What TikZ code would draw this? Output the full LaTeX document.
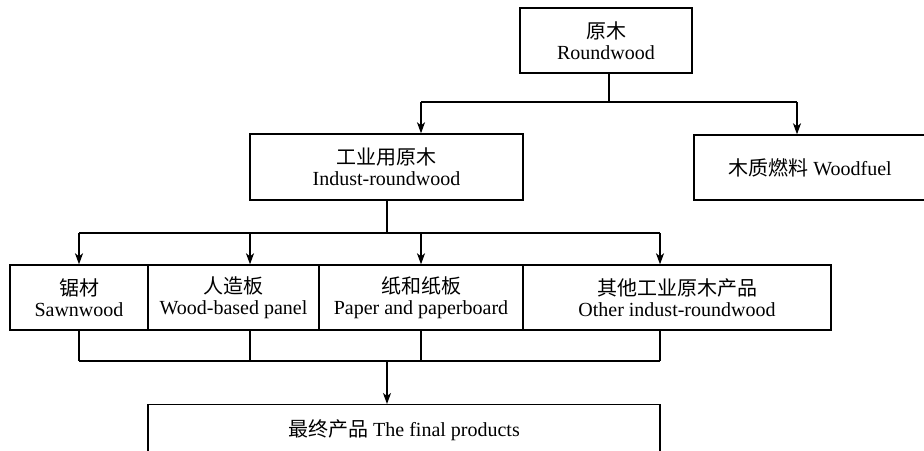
\documentclass[tikz,border=0pt]{standalone}
\usepackage{fontspec}
\setmainfont{Liberation Serif}
\newfontfamily\cjk{Noto Sans CJK SC}
\usetikzlibrary{arrows.meta}
\begin{document}
\begin{tikzpicture}[x=1pt,y=-1pt,
  box/.style={draw,line width=1.4pt,rectangle,inner sep=0pt,align=center,
    font=\fontsize{20}{21}\selectfont},
  conn/.style={line width=1.4pt},
  arr/.style={conn,-{Stealth[length=11pt,width=8pt,inset=3pt]}}]
\useasboundingbox (0,0) rectangle (924,450);
% nodes
\node[box,minimum width=172pt,minimum height=65pt] (rw) at (606,40.5) {{\cjk 原木}\\Roundwood};
\node[box,minimum width=232pt,minimum height=65pt] (wf) at (810,167.5) {{\cjk 木质燃料} Woodfuel};
\node[box,minimum width=273pt,minimum height=66pt] (ind) at (386.5,167) {{\cjk 工业用原木}\\Indust-roundwood};
\node[box,minimum width=138pt,minimum height=65pt] (saw) at (79,297.5) {{\cjk 锯材}\\Sawnwood};
\node[box,minimum width=171pt,minimum height=65pt] (wbp) at (233.5,297.5) {{\cjk 人造板}\\Wood-based panel};
\node[box,minimum width=204pt,minimum height=65pt] (pap) at (421,297.5) {{\cjk 纸和纸板}\\Paper and paperboard};
\node[box,minimum width=308pt,minimum height=65pt] (oth) at (677,297.5) {{\cjk 其他工业原木产品}\\Other indust-roundwood};
\node[box,minimum width=512pt,minimum height=54pt,anchor=north] (fin) at (404,404) {};
\node[font=\fontsize{20}{21}\selectfont,inner sep=0pt] (fint) at (404,430) {{\cjk 最终产品} The final products};
% junction coordinates
\coordinate (j1) at (609,102);
\coordinate (j1l) at (421,102);
\coordinate (j1r) at (797,102);
\coordinate (j2) at (387,233);
\coordinate (xa) at (79,0);
\coordinate (xb) at (250,0);
\coordinate (xc) at (421,0);
\coordinate (xd) at (660,0);
\coordinate (j3) at (387,361);
% top connectors
\draw[conn] (rw.south -| j1) -- (j1);
\draw[conn] (j1l) -- (j1r);
\draw[arr] (j1l) -- (j1l |- ind.north);
\draw[arr] (j1r) -- (j1r |- wf.north);
% middle connectors
\draw[conn] (ind.south -| j2) -- (j2);
\draw[conn] (j2 -| xa) -- (j2 -| xd);
\draw[arr] (j2 -| xa) -- (saw.north -| xa);
\draw[arr] (j2 -| xb) -- (wbp.north -| xb);
\draw[arr] (j2 -| xc) -- (pap.north -| xc);
\draw[arr] (j2 -| xd) -- (oth.north -| xd);
% bottom connectors
\draw[conn] (saw.south -| xa) -- (j3 -| xa);
\draw[conn] (wbp.south -| xb) -- (j3 -| xb);
\draw[conn] (pap.south -| xc) -- (j3 -| xc);
\draw[conn] (oth.south -| xd) -- (j3 -| xd);
\draw[conn] (j3 -| xa) -- (j3 -| xd);
\draw[arr] (j3) -- (fin.north -| j3);
\end{tikzpicture}
\end{document}
